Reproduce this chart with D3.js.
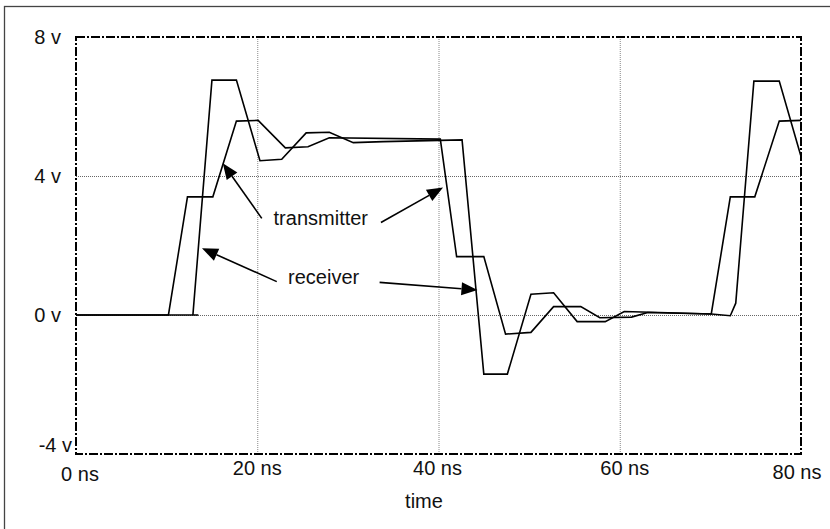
<!DOCTYPE html>
<html>
<head>
<meta charset="utf-8">
<script src="https://d3js.org/d3.v7.min.js"></script>
<style>
  body { margin: 0; background: white; }
  text { font-family: "Liberation Sans", Arial, sans-serif; fill: #111; }
</style>
</head>
<body>
<script>
let w = 830;
let h = 529;

// time (ns) / volts
const txTime = [0, 10.2, 12.3, 15.1, 17.7, 20.1, 23.1, 25.6, 27.95, 40.2, 42.0, 45.0, 47.4, 50.2, 52.7, 55.7, 57.8, 61.3, 63.1, 70.1, 72.2, 74.9, 77.6, 80];
const txVolt = [0, 0, 3.4, 3.4, 5.58, 5.6, 4.81, 4.84, 5.1, 5.06, 1.68, 1.68, -0.55, -0.5, 0.24, 0.24, -0.08, -0.06, 0.07, 0.03, 3.4, 3.4, 5.58, 5.6];

const rxTime = [0, 13.5, 12.9, 15.0, 17.7, 20.3, 22.7, 25.4, 27.95, 30.6, 33.9, 42.6, 45.0, 47.6, 50.2, 52.7, 55.3, 58.4, 60.5, 70.1, 72.2, 72.8, 74.8, 77.6, 80];
const rxVolt = [0, 0, 0, 6.76, 6.76, 4.44, 4.48, 5.24, 5.26, 4.96, 4.99, 5.04, -1.7, -1.7, 0.6, 0.64, -0.19, -0.19, 0.1, 0.03, -0.02, 0.34, 6.73, 6.73, 4.56];

const xTicks = [0, 20, 40, 60, 80];
const yTicks = [8, 4, 0, -4];
const xLabels = ['0 ns', '20 ns', '40 ns', '60 ns', '80 ns'];
const yLabels = ['8 v', '4 v', '0 v', '-4 v'];

// annotations: label, text anchor point, arrows [from, tip]
const noteNames = ['transmitter', 'receiver'];
const notePos = [[21.8, 2.6], [23.4, 0.88]];
const noteArrows = [
  [[[20.5, 2.78], [16.2, 4.37]], [[33.65, 2.66], [40.5, 3.67]]],
  [[[22.15, 0.96], [13.9, 1.92]], [[33.5, 0.94], [44.3, 0.72]]]
];

const svg = d3.select('body')
  .append('svg')
  .attr('width', w)
  .attr('height', h)
  .style("background-color", "white");

// outer frame (runs off right / bottom)
svg.append('rect')
  .attr('x', 4.5).attr('y', 6.5)
  .attr('width', w + 10).attr('height', h + 10)
  .attr('fill', 'none')
  .attr('stroke', '#444')
  .attr('stroke-width', 1.3);

const x = d3.scaleLinear().domain([0, 80]).range([76, 801]);
const y = d3.scaleLinear().domain([-4, 8]).range([454, 37]);

// grid
svg.append('g')
  .selectAll('line')
  .data([20, 40, 60])
  .enter()
  .append('line')
  .attr('x1', d => x(d) + 0.5).attr('x2', d => x(d) + 0.5)
  .attr('y1', y(8)).attr('y2', y(-4))
  .attr('stroke', '#888')
  .attr('stroke-width', 1)
  .attr('stroke-dasharray', '1,1');

svg.append('g')
  .selectAll('line')
  .data([4, 0])
  .enter()
  .append('line')
  .attr('x1', x(0)).attr('x2', x(80))
  .attr('y1', d => y(d) + 0.5).attr('y2', d => y(d) + 0.5)
  .attr('stroke', '#666')
  .attr('stroke-width', 1)
  .attr('stroke-dasharray', '1,1');

// plot border, dash-dot
svg.append('rect')
  .attr('x', x(0)).attr('y', y(8))
  .attr('width', x(80) - x(0))
  .attr('height', y(-4) - y(8))
  .attr('fill', 'none')
  .attr('stroke', 'black')
  .attr('stroke-width', 2)
  .attr('stroke-dasharray', '9,2,2,2');

// axis labels
svg.append('g')
  .selectAll('text')
  .data(yTicks)
  .enter()
  .append('text')
  .attr('x', (d, i) => i == 3 ? 72 : 61)
  .attr('y', (d, i) => i == 3 ? y(d) - 9 : y(d))
  .attr('dy', '0.36em')
  .attr('text-anchor', 'end')
  .style('font-size', '20px')
  .text((d, i) => yLabels[i]);

svg.append('g')
  .selectAll('text')
  .data(xTicks)
  .enter()
  .append('text')
  .attr('x', (d, i) => x(d) + [4, 0, -1, 5, -4][i])
  .attr('y', (d, i) => [481, 475, 475, 475, 479][i])
  .attr('text-anchor', 'middle')
  .style('font-size', '20px')
  .text((d, i) => xLabels[i]);

svg.append('text')
  .attr('x', 424)
  .attr('y', 508)
  .attr('text-anchor', 'middle')
  .style('font-size', '20px')
  .text('time');

// traces
const line = d3.line()
  .x(d => x(d[0]))
  .y(d => y(d[1]));

const series = [d3.zip(txTime, txVolt), d3.zip(rxTime, rxVolt)];

svg.append('g')
  .selectAll('path')
  .data(series)
  .enter()
  .append('path')
  .attr('d', line)
  .attr('fill', 'none')
  .attr('stroke', 'black')
  .attr('stroke-width', 1.6)
  .attr('stroke-linejoin', 'miter');

// annotations
noteNames.forEach(function (name, k) {
  svg.append('text')
    .attr('x', x(notePos[k][0]))
    .attr('y', y(notePos[k][1]))
    .style('font-size', '20px')
    .text(name);

  noteArrows[k].forEach(function (a) {
    let x0 = x(a[0][0]), y0 = y(a[0][1]);
    let x1 = x(a[1][0]), y1 = y(a[1][1]);
    let ang = Math.atan2(y1 - y0, x1 - x0);
    let len = 16, hw = 6.5;
    let bx = x1 - len * Math.cos(ang), by = y1 - len * Math.sin(ang);
    svg.append('line')
      .attr('x1', x0).attr('y1', y0)
      .attr('x2', bx).attr('y2', by)
      .attr('stroke', 'black')
      .attr('stroke-width', 1.6);
    let pts = [
      [x1, y1],
      [bx + hw * Math.sin(ang), by - hw * Math.cos(ang)],
      [bx - hw * Math.sin(ang), by + hw * Math.cos(ang)]
    ];
    svg.append('polygon')
      .attr('points', pts.map(p => p.join(',')).join(' '))
      .attr('fill', 'black');
  });
});
</script>
</body>
</html>
